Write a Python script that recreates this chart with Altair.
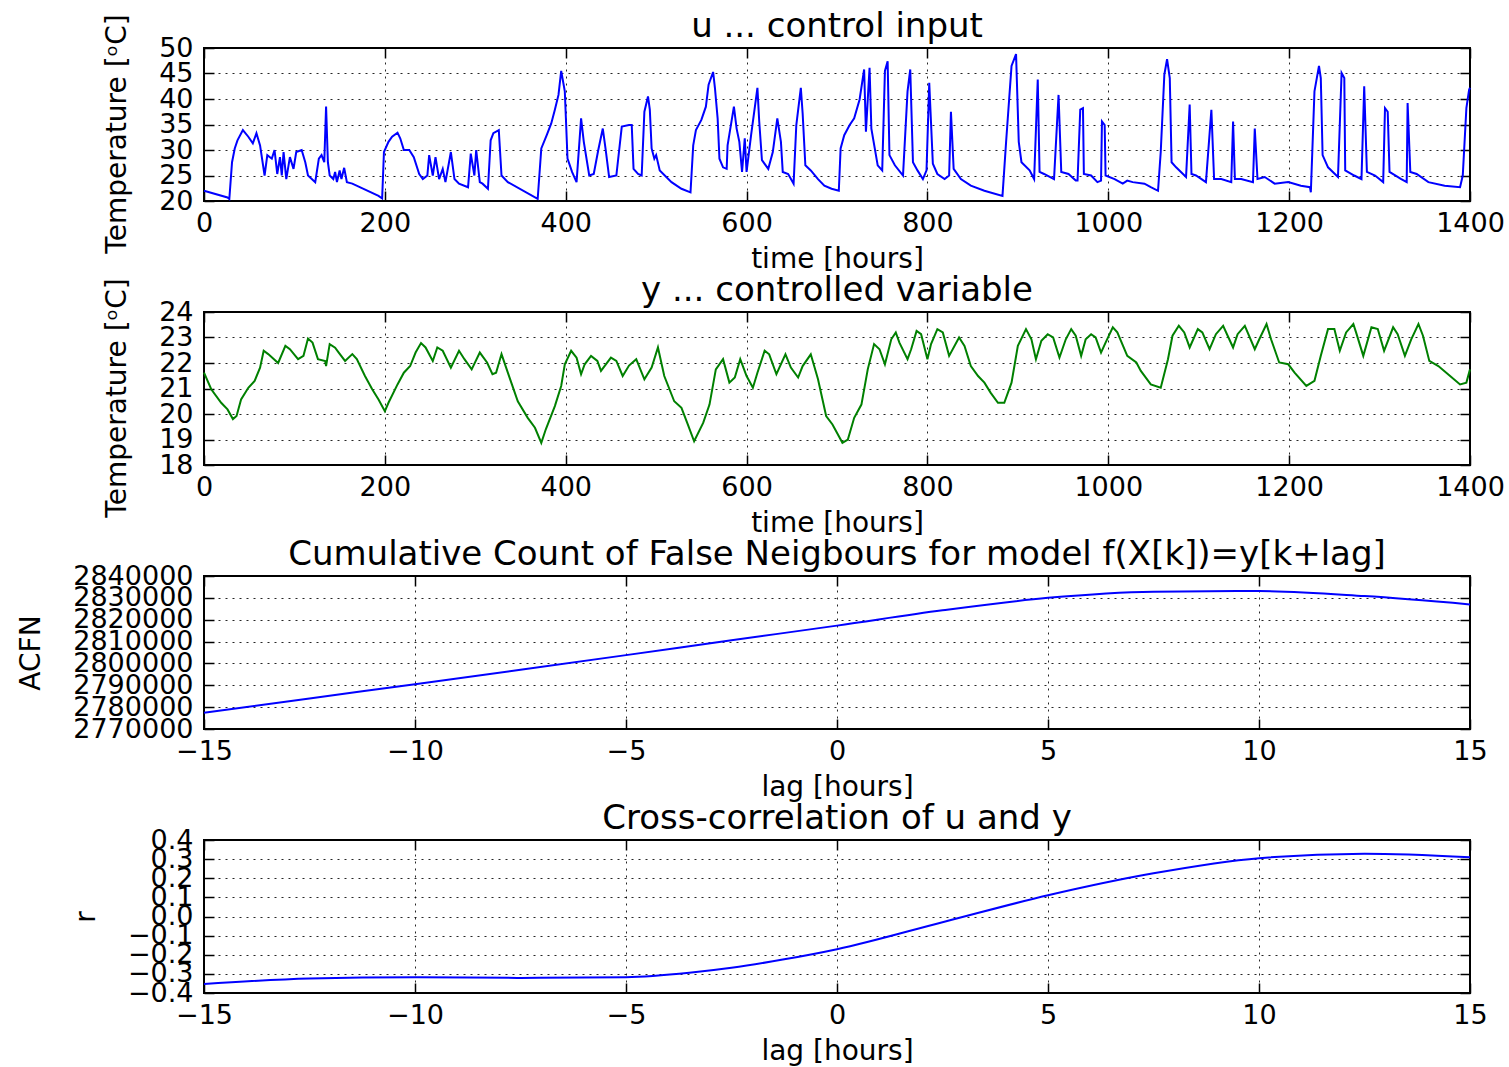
import altair as alt
import pandas as pd

# ---- u: heating control input (hours, deg C) ----
u_time = [0, 26, 28, 31, 34, 37, 43, 49, 54, 58, 62, 67, 70, 75, 78, 81, 84, 86, 88, 91,
          95, 99, 102, 108, 112, 115, 123, 127, 130, 133, 135, 137, 139, 143, 145, 147, 150, 152, 155, 158,
          164, 193, 197, 199, 204, 208, 214, 217, 221, 227, 232, 238, 242, 247, 249, 253, 256, 260, 264, 267,
          273, 277, 282, 292, 295, 299, 301, 305, 308, 314, 317, 320, 326, 329, 336, 369, 373, 379, 384, 388,
          392, 395, 399, 402, 407, 412, 417, 420, 426, 431, 436, 441, 444, 448, 456, 462, 470, 473, 475, 480,
          484, 487, 491, 493, 495, 498, 500, 504, 517, 528, 538, 541, 544, 550, 555, 558, 563, 565, 568, 570,
          574, 578, 579, 586, 589, 592, 595, 598, 600, 605, 612, 614, 617, 624, 629, 634, 638, 640, 646, 652,
          655, 660, 662, 665, 671, 679, 686, 694, 702, 704, 708, 714, 719, 725, 730, 732, 736, 738, 745, 750,
          753, 756, 758, 764, 773, 778, 781, 784, 789, 795, 799, 802, 806, 811, 819, 824, 826, 829, 837, 848,
          863, 883, 887, 893, 898, 901, 904, 913, 918, 922, 924, 929, 940, 945, 948, 956, 964, 966, 969, 972,
          973, 981, 988, 992, 993, 996, 997, 1007, 1016, 1021, 1027, 1040, 1047, 1055, 1058, 1062, 1065, 1068, 1070, 1075,
          1086, 1090, 1092, 1097, 1108, 1114, 1117, 1125, 1136, 1138, 1140, 1147, 1160, 1162, 1165, 1173, 1184, 1199, 1213, 1223,
          1224, 1228, 1233, 1235, 1237, 1243, 1254, 1258, 1261, 1262, 1272, 1280, 1283, 1286, 1295, 1304, 1306, 1309, 1311, 1324,
          1330, 1331, 1334, 1341, 1354, 1372, 1389, 1392, 1396, 1399, 1400]
u_temp = [22.0, 20.7, 20.4, 27.6, 30.3, 31.9, 33.9, 32.6, 31.3, 33.3, 30.9, 25.0, 29.0, 28.3, 30.0, 25.3, 28.6, 25.0, 29.6, 24.3,
          28.6, 26.3, 29.6, 30.0, 27.6, 25.0, 23.7, 28.3, 29.0, 27.6, 38.5, 27.6, 25.0, 24.3, 25.7, 23.7, 26.0, 24.3, 26.5, 23.7,
          23.4, 21.0, 20.5, 29.6, 31.6, 32.6, 33.4, 32.3, 30.0, 30.0, 28.6, 25.3, 24.3, 25.0, 29.0, 25.0, 28.6, 24.3, 26.3, 23.7,
          29.6, 24.3, 23.4, 22.7, 29.3, 25.0, 30.0, 23.7, 23.4, 22.4, 31.9, 33.3, 33.9, 25.0, 23.7, 20.4, 30.3, 32.9, 35.2, 37.9,
          40.8, 45.5, 41.5, 28.3, 25.7, 23.7, 36.2, 31.6, 25.0, 25.3, 30.0, 34.2, 30.3, 24.7, 25.0, 34.6, 34.9, 34.9, 26.3, 25.3,
          25.0, 37.5, 40.5, 37.9, 30.3, 28.3, 29.0, 26.0, 23.7, 22.4, 21.7, 30.9, 33.9, 35.9, 38.5, 42.8, 45.3, 42.2, 36.2, 28.3,
          26.6, 26.3, 30.9, 38.5, 34.2, 31.6, 25.7, 32.3, 25.7, 32.9, 42.2, 35.6, 28.0, 26.3, 29.6, 36.2, 31.6, 25.7, 25.3, 23.4,
          34.9, 42.2, 37.2, 27.0, 26.0, 24.3, 23.0, 22.4, 22.0, 30.3, 32.9, 34.9, 36.2, 39.9, 45.8, 33.6, 46.1, 34.2, 27.0, 26.0,
          45.5, 47.4, 29.0, 27.0, 25.0, 41.5, 45.8, 27.6, 26.0, 24.3, 26.0, 43.2, 27.3, 25.3, 24.3, 25.0, 37.5, 26.3, 24.3, 23.0,
          22.0, 21.0, 31.6, 46.5, 48.8, 31.6, 27.6, 26.0, 24.3, 43.8, 25.7, 25.3, 24.3, 40.8, 25.7, 25.3, 24.0, 24.0, 37.9, 38.2,
          25.3, 25.0, 23.7, 24.0, 35.6, 34.9, 25.0, 24.3, 23.4, 24.0, 23.7, 23.4, 22.7, 22.0, 29.6, 44.8, 47.8, 44.1, 27.6, 26.6,
          24.7, 38.9, 25.3, 25.0, 23.7, 37.9, 24.3, 24.3, 23.7, 35.6, 24.3, 24.3, 23.7, 34.2, 24.3, 24.7, 23.4, 23.7, 23.0, 22.7,
          21.7, 41.5, 46.5, 44.1, 29.0, 26.6, 24.7, 45.1, 44.1, 26.0, 25.0, 24.3, 42.5, 25.7, 25.0, 23.7, 38.2, 37.5, 25.7, 24.3,
          23.7, 39.2, 25.7, 25.3, 23.7, 23.0, 22.7, 25.0, 38.2, 41.8, 42.2]

# ---- y: controlled room temperature (hours, deg C) ----
y_time = [0, 8, 19, 26, 32, 36, 41, 49, 56, 62, 66, 71, 82, 90, 95, 104, 110, 115, 120, 126,
          134, 135, 139, 145, 149, 156, 164, 169, 178, 186, 193, 200, 204, 214, 221, 228, 234, 240, 245, 253,
          258, 264, 273, 282, 288, 296, 305, 313, 319, 323, 329, 336, 347, 358, 366, 373, 378, 388, 395, 399,
          406, 412, 417, 421, 428, 435, 439, 450, 456, 463, 470, 478, 487, 495, 502, 509, 520, 528, 535, 542,
          552, 559, 566, 574, 581, 587, 593, 600, 607, 612, 620, 625, 633, 643, 649, 657, 662, 671, 679, 688,
          695, 706, 712, 719, 727, 734, 741, 747, 753, 760, 765, 769, 778, 782, 788, 793, 800, 804, 811, 817,
          824, 832, 835, 841, 848, 856, 863, 870, 878, 885, 893, 900, 909, 915, 920, 926, 933, 939, 946, 953,
          959, 964, 970, 975, 981, 986, 992, 997, 1005, 1010, 1021, 1031, 1036, 1047, 1058, 1066, 1071, 1078, 1084, 1090,
          1099, 1104, 1112, 1119, 1127, 1132, 1138, 1143, 1151, 1162, 1167, 1175, 1180, 1189, 1199, 1206, 1219, 1228, 1235, 1243,
          1250, 1256, 1263, 1271, 1274, 1282, 1291, 1298, 1305, 1315, 1320, 1328, 1335, 1343, 1348, 1355, 1365, 1378, 1389, 1396,
          1400]
y_temp = [21.62, 20.97, 20.44, 20.18, 19.8, 19.92, 20.57, 21.03, 21.3, 21.82, 22.48, 22.35, 22.0, 22.67, 22.54, 22.15, 22.28, 22.96, 22.8, 22.15,
          22.08, 21.88, 22.74, 22.6, 22.41, 22.08, 22.35, 22.15, 21.49, 20.97, 20.57, 20.11, 20.44, 21.16, 21.62, 21.88, 22.41, 22.78, 22.61, 22.08,
          22.61, 22.48, 21.82, 22.48, 22.15, 21.75, 22.41, 22.02, 21.56, 21.62, 22.35, 21.62, 20.5, 19.85, 19.46, 18.87, 19.4, 20.31, 21.1, 21.95,
          22.48, 22.21, 21.56, 21.95, 22.28, 22.08, 21.69, 22.21, 22.08, 21.49, 21.9, 22.15, 21.36, 21.82, 22.61, 21.49, 20.5, 20.24, 19.59, 18.93,
          19.65, 20.37, 21.75, 22.15, 21.23, 21.43, 22.15, 21.49, 21.03, 21.62, 22.48, 22.34, 21.56, 22.34, 21.82, 21.43, 21.88, 22.34, 21.36, 19.92,
          19.59, 18.87, 19.0, 19.85, 20.37, 21.75, 22.74, 22.54, 21.95, 22.93, 23.2, 22.8, 22.15, 22.54, 23.26, 23.13, 22.15, 22.74, 23.33, 23.2,
          22.28, 22.8, 23.0, 22.67, 21.88, 21.49, 21.23, 20.83, 20.44, 20.44, 21.23, 22.67, 23.33, 22.93, 22.15, 22.87, 23.13, 23.0, 22.21, 22.93,
          23.33, 23.07, 22.28, 22.93, 23.13, 23.0, 22.41, 22.8, 23.4, 23.2, 22.28, 22.02, 21.69, 21.16, 21.03, 22.15, 23.07, 23.46, 23.2, 22.61,
          23.33, 23.2, 22.54, 23.13, 23.46, 23.07, 22.61, 23.13, 23.46, 22.54, 22.93, 23.53, 22.93, 22.02, 21.95, 21.62, 21.1, 21.3, 22.28, 23.33,
          23.33, 22.48, 23.2, 23.53, 23.2, 22.28, 23.4, 23.33, 22.48, 23.4, 23.13, 22.28, 22.93, 23.53, 23.07, 22.08, 21.88, 21.49, 21.16, 21.23,
          21.75]

# ---- ACFN versus lag ----
acfn_lag = [-15, -12.5, -10, -7.5, -5, -2.5, 0, 2.5, 5, 7.5, 10, 12.5, 15]
acfn_value = [2777400, 2784000, 2790500, 2797100, 2803800, 2810600, 2817300,
              2824300, 2830000, 2832800, 2833100, 2830800, 2827000]

# ---- cross-correlation of u and y versus lag ----
xcorr_lag = [-15, -12.5, -10, -7.5, -5, -3.5, -2.5, -1.25, 0, 2.5, 5, 7.5, 10, 12.5, 15]
xcorr_r = [-0.353, -0.324, -0.317, -0.321, -0.317, -0.294, -0.268, -0.224, -0.171,
           -0.03, 0.111, 0.226, 0.305, 0.328, 0.31]

# axis tick values
time_ticks = [0, 200, 400, 600, 800, 1000, 1200, 1400]
lag_ticks = [-15, -10, -5, 0, 5, 10, 15]
u_ticks = [20, 25, 30, 35, 40, 45, 50]
y_ticks = [18, 19, 20, 21, 22, 23, 24]
acfn_ticks = [2770000, 2780000, 2790000, 2800000, 2810000, 2820000, 2830000, 2840000]
r_ticks = [-0.4, -0.3, -0.2, -0.1, 0.0, 0.1, 0.2, 0.3, 0.4]

FONT = "DejaVu Sans"
W, H = 1266, 153
TICK = 10


def panel(df, xf, yf, xdom, ydom, xticks, yticks, xtitle, ytitle, title, color,
          yfmt, interp="linear", ytitle_shift=0):
    xs = alt.Scale(domain=xdom, nice=False, zero=False)
    ys = alt.Scale(domain=ydom, nice=False, zero=False)
    main = alt.Chart(df).mark_line(color=color, strokeWidth=2, interpolate=interp).encode(
        x=alt.X(f"{xf}:Q", scale=xs,
                axis=alt.Axis(values=xticks, title=xtitle, orient="bottom", offset=-TICK,
                              tickSize=TICK, grid=True, format="d", labelPadding=9,
                              titlePadding=9)),
        y=alt.Y(f"{yf}:Q", scale=ys,
                axis=alt.Axis(values=yticks, title=ytitle, orient="left", offset=-TICK,
                              tickSize=TICK, grid=True, format=yfmt, labelPadding=11,
                              titlePadding=27, titleY=H / 2 + ytitle_shift)),
    )
    # tick marks on the top and right edges of the frame
    mirror = alt.Chart(df).mark_line(opacity=0).encode(
        x=alt.X(f"{xf}:Q", scale=xs,
                axis=alt.Axis(values=xticks, title=None, orient="top", offset=-TICK,
                              tickSize=TICK, labels=False, grid=False)),
        y=alt.Y(f"{yf}:Q", scale=ys,
                axis=alt.Axis(values=yticks, title=None, orient="right", offset=-TICK,
                              tickSize=TICK, labels=False, grid=False)),
    )
    # panel heading, centred just above the frame
    heading = alt.Chart(pd.DataFrame({"heading": [title]})).mark_text(
        font=FONT, fontSize=34, baseline="alphabetic", align="center", color="black"
    ).encode(text="heading:N", x=alt.value(W / 2), y=alt.value(-11))
    return (
        alt.layer(main, mirror, heading)
        .resolve_axis(x="independent", y="independent")
        .properties(width=W, height=H)
    )


u_df = pd.DataFrame({"time": u_time, "u": u_temp})
y_df = pd.DataFrame({"time": y_time, "y": y_temp})
acfn_df = pd.DataFrame({"lag": acfn_lag, "acfn": acfn_value})
xcorr_df = pd.DataFrame({"lag": xcorr_lag, "r": xcorr_r})

p1 = panel(u_df, "time", "u", [0, 1400], [20, 50], time_ticks, u_ticks,
           "time [hours]", "Temperature [ᵒC]", "u ... control input", "#0000ff", "d",
           ytitle_shift=9)
p2 = panel(y_df, "time", "y", [0, 1400], [18, 24], time_ticks, y_ticks,
           "time [hours]", "Temperature [ᵒC]", "y ... controlled variable", "#008000", "d",
           ytitle_shift=9)
p3 = panel(acfn_df, "lag", "acfn", [-15, 15], [2770000, 2840000], lag_ticks, acfn_ticks,
           "lag [hours]", "ACFN",
           "Cumulative Count of False Neigbours for model f(X[k])=y[k+lag]", "#0000ff", "d",
           interp="monotone")
p4 = panel(xcorr_df, "lag", "r", [-15, 15], [-0.4, 0.4], lag_ticks, r_ticks,
           "lag [hours]", "r", "Cross-correlation of u and y", "#0000ff", ".1f",
           interp="monotone")

chart = (
    alt.vconcat(p1, p2, p3, p4, spacing=111, bounds="flush")
    .properties(padding={"left": 16, "top": 9, "right": 2, "bottom": 2})
    .configure_view(stroke="black", strokeWidth=2)
    .configure_axis(
        labelFont=FONT, labelFontSize=27, labelColor="black",
        titleFont=FONT, titleFontSize=28, titleFontWeight="normal", titleColor="black",
        gridColor="black", gridDash=[2, 5], gridWidth=1, gridOpacity=0.85,
        tickColor="black", tickWidth=1.5, domain=False,
        labelOverlap=False, labelFlush=False,
    )
)

chart.save("out.html", embed_options={"renderer": "svg", "actions": False})
